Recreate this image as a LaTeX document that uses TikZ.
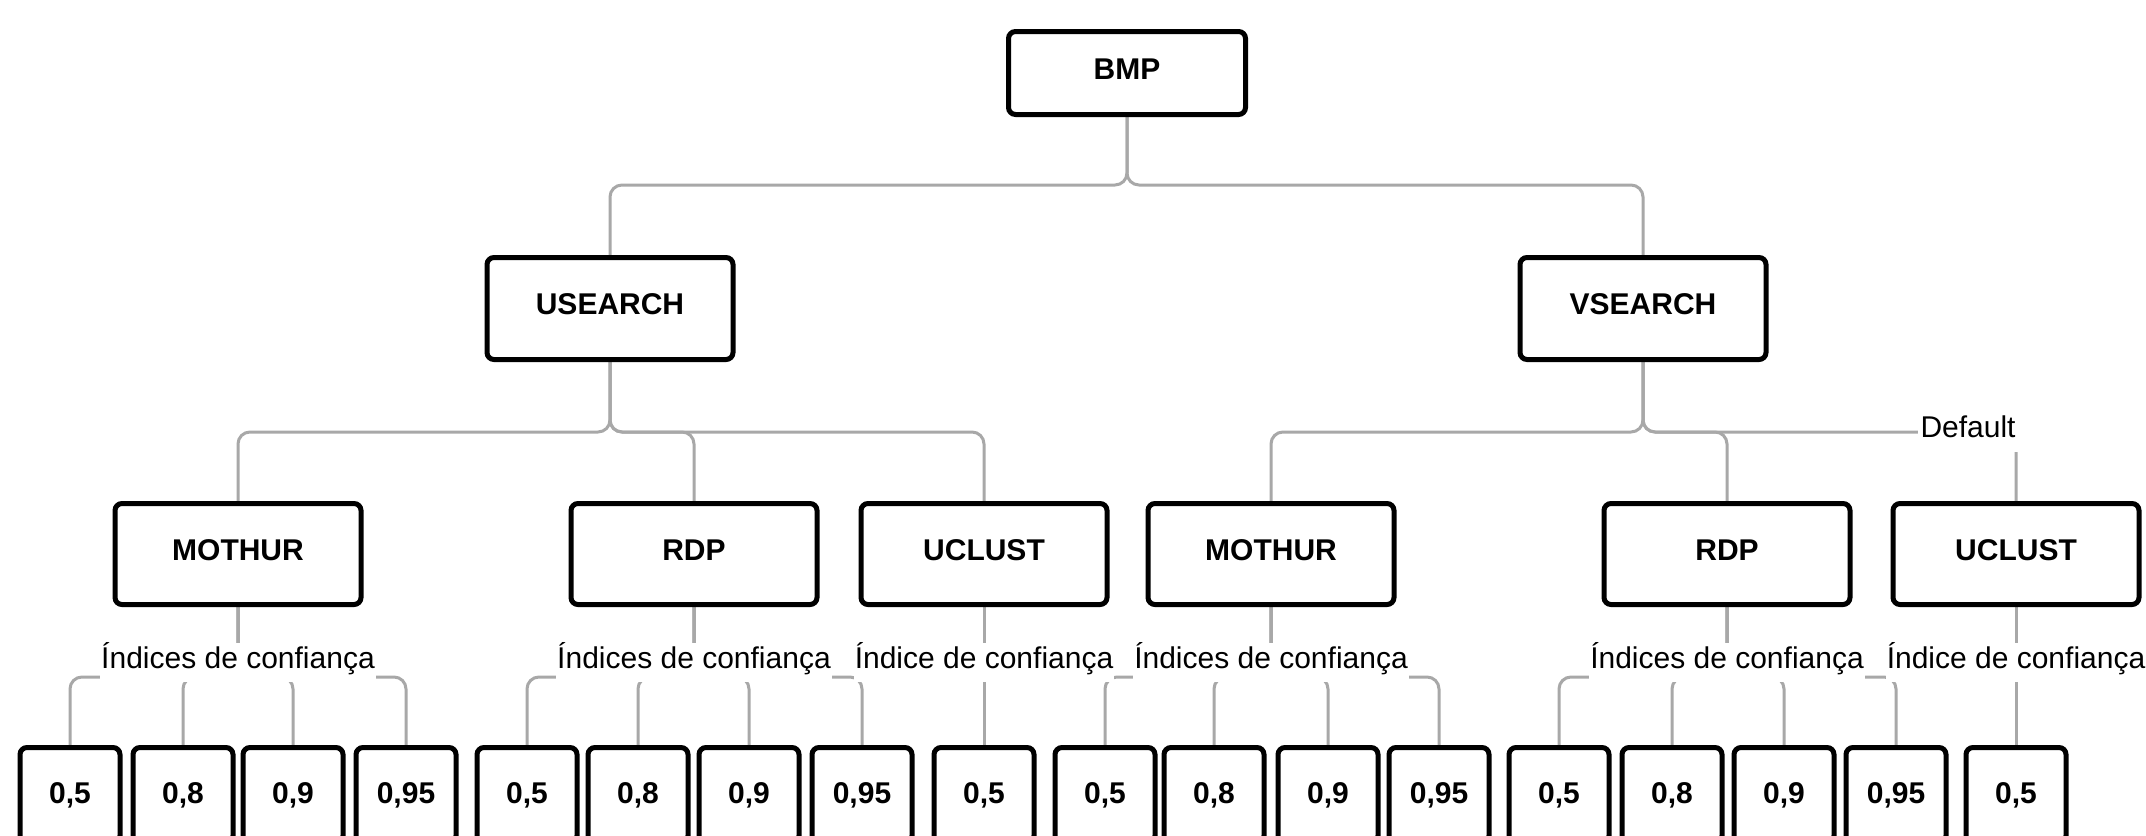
\documentclass[tikz,border=0pt]{standalone}
\usepackage{fontspec}
\setmainfont{Liberation Sans}
\usetikzlibrary{backgrounds}
\definecolor{edgegray}{HTML}{A8A8A8}
\begin{document}
\begin{tikzpicture}[x=1pt,y=-1pt,
  box/.style={draw=black, line width=5pt, rounded corners=7pt, fill=white,
    font=\fontsize{30}{36}\selectfont\bfseries, inner sep=0pt},
  topbox/.style={box, minimum width=237pt, minimum height=83pt, text depth=8pt},
  midbox/.style={box, minimum width=246pt, minimum height=102pt, text depth=8pt},
  toolbox/.style={box, minimum width=246pt, minimum height=101pt, text depth=8pt},
  leafbox/.style={box, minimum width=100pt, minimum height=95pt},
  edge/.style={draw=edgegray, line width=3pt, rounded corners=12pt},
  elabel/.style={fill=white, font=\fontsize{30}{36}\selectfont, inner xsep=1pt,
    inner ysep=0pt, text height=25pt, text depth=14pt, anchor=base},
]
\useasboundingbox (0,0) rectangle (2146,835);
\coordinate (b1) at (0,185);
\coordinate (b2) at (0,432);
\coordinate (b3) at (0,677);

% nodes
\node[topbox] (bmp) at (1127,73) {BMP};
\node[midbox] (us) at (610,308.5) {USEARCH};
\node[midbox] (vs) at (1643,308.5) {VSEARCH};

\node[toolbox] (um) at (238,554) {MOTHUR};
\node[toolbox] (ur) at (694,554) {RDP};
\node[toolbox] (uu) at (984,554) {UCLUST};
\node[toolbox] (vm) at (1271,554) {MOTHUR};
\node[toolbox] (vr) at (1727,554) {RDP};
\node[toolbox] (vu) at (2016,554) {UCLUST};

\foreach \p/\xa/\xb/\xc/\xd in {um/70/183/293/406, ur/527/638/749/862,
    vm/1105/1214/1328/1439, vr/1559/1672/1784/1896}{
  \node[leafbox] (\p1) at (\xa,795) {0,5};
  \node[leafbox] (\p2) at (\xb,795) {0,8};
  \node[leafbox] (\p3) at (\xc,795) {0,9};
  \node[leafbox] (\p4) at (\xd,795) {0,95};
}
\node[leafbox] (uu1) at (984,795) {0,5};
\node[leafbox] (vu1) at (2016,795) {0,5};

% connectors
\begin{scope}[on background layer]
  \fill[white] (0,0) rectangle (2146,835);
  \draw[edge] (bmp.south) -- (bmp.south |- b1) -| (us.north);
  \draw[edge] (bmp.south) -- (bmp.south |- b1) -| (vs.north);
  \foreach \c in {um,ur,uu}{
    \draw[edge] (us.south) -- (us.south |- b2) -| (\c.north);
  }
  \foreach \c in {vm,vr,vu}{
    \draw[edge] (vs.south) -- (vs.south |- b2) -| (\c.north);
  }
  \foreach \p in {um,ur,vm,vr}{
    \foreach \i in {1,...,4}{
      \draw[edge] (\p.south) -- (\p.south |- b3) -| (\p\i.north);
    }
  }
  \draw[edge] (uu.south) -- (uu1.north);
  \draw[edge] (vu.south) -- (vu1.north);
\end{scope}

% edge labels
\node[elabel, text depth=15pt, text height=22pt, inner xsep=3pt] (dflt) at (1968,437) {Default};
\node[elabel] (lum) at (238,668) {Índices de confiança};
\node[elabel] (lur) at (694,668) {Índices de confiança};
\node[elabel] (luu) at (984,668) {Índice de confiança};
\node[elabel] (lvm) at (1271,668) {Índices de confiança};
\node[elabel] (lvr) at (1727,668) {Índices de confiança};
\node[elabel] (lvu) at (2016,668) {Índice de confiança};
\end{tikzpicture}
\end{document}
